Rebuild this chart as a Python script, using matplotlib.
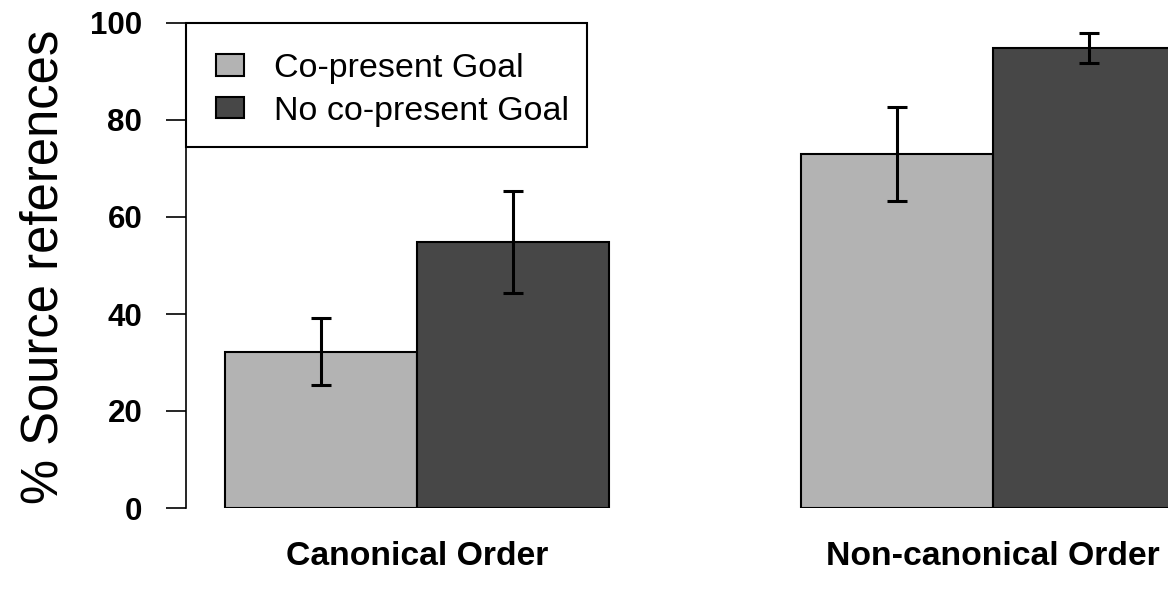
import matplotlib.pyplot as plt
from matplotlib.patches import Rectangle
import numpy as np

plt.rcParams['font.family'] = ['Liberation Sans', 'DejaVu Sans']

# Mean % source references and standard errors per condition
groups = ['Canonical Order', 'Non-canonical Order']
conditions = ['Co-present Goal', 'No co-present Goal']
copresent_mean = [32.2, 73.0]
copresent_se = [6.9, 9.7]
nocopresent_mean = [54.8, 94.8]
nocopresent_se = [10.5, 3.05]
yticks = [0, 20, 40, 60, 80, 100]

light = '#B3B3B3'
dark = '#474747'

fig = plt.figure(figsize=(11.68, 5.92), dpi=100)
ax = fig.add_axes([186 / 1168, 84 / 592, 982 / 1168, 485 / 592])

# bars laid out like R's barplot(beside=TRUE): width 1, one unit between groups
left1 = np.array([1, 4])
left2 = left1 + 1
ax.bar(left1, copresent_mean, width=1, align='edge', color=light,
       edgecolor='black', linewidth=1.5, label=conditions[0])
ax.bar(left2, nocopresent_mean, width=1, align='edge', color=dark,
       edgecolor='black', linewidth=1.5, label=conditions[1])
ax.errorbar(left1 + 0.5, copresent_mean, yerr=copresent_se, fmt='none',
            ecolor='black', elinewidth=2.2, capsize=7, capthick=2.2)
ax.errorbar(left2 + 0.5, nocopresent_mean, yerr=nocopresent_se, fmt='none',
            ecolor='black', elinewidth=2.2, capsize=7, capthick=2.2)

ax.set_xlim(0.797, 5.911)
ax.set_ylim(0, 100)

for s in ['top', 'right', 'bottom']:
    ax.spines[s].set_visible(False)
ax.spines['left'].set_linewidth(1.2)
ax.spines['left'].set_bounds(0, 100)

ax.set_yticks(yticks)
ax.set_yticklabels([str(t) for t in yticks], fontsize=22.5, fontweight='bold')
ax.tick_params(axis='y', length=14.5, width=1.2, pad=17)

ax.set_xticks([2, 5])
ax.set_xticklabels(groups, fontsize=24.3, fontweight='bold')
ax.tick_params(axis='x', length=0, pad=24)

fig.text(44 / 1168, 1 - 267 / 592, '% Source references', rotation=90,
         ha='center', va='center', fontsize=36.5)

# legend box: wider padding on the left than on the right, like R's legend()
ax.add_patch(Rectangle((0, 0.7443), 0.4084, 0.2557, transform=ax.transAxes,
                       facecolor='white', edgecolor='black', linewidth=1.5,
                       clip_on=False, zorder=4))
leg = ax.legend(loc='upper left', bbox_to_anchor=(0, 1), borderaxespad=0,
                fontsize=24.5, frameon=False, handlelength=0.8,
                handleheight=0.6, handletextpad=0.9, borderpad=0.89,
                labelspacing=0.33)
leg.set_zorder(5)
for h in leg.legend_handles:
    h.set_linewidth(1.5)

fig.savefig('out.png', dpi=100)
